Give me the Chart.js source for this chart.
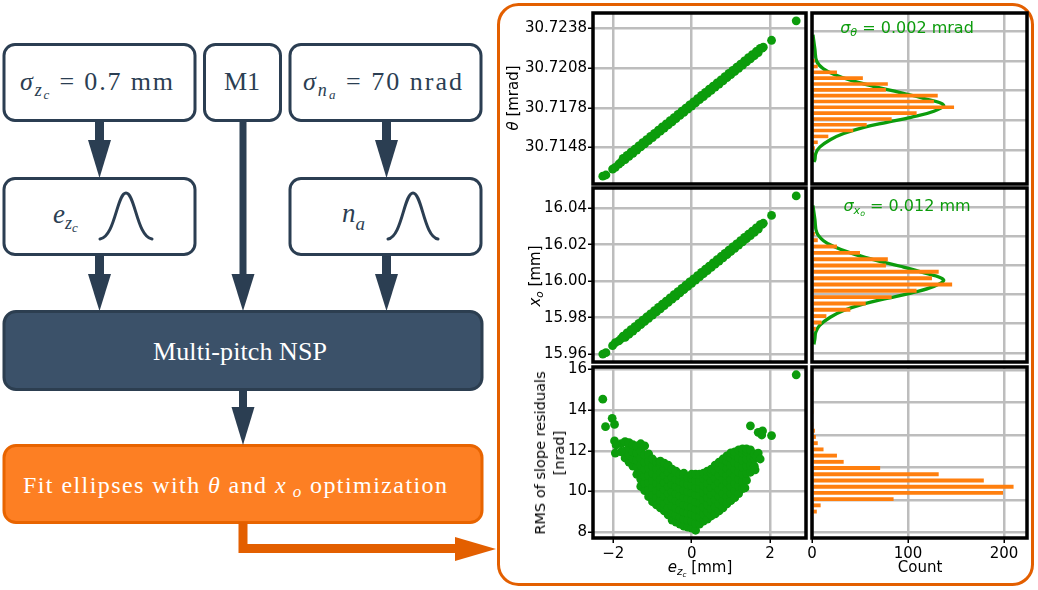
<!DOCTYPE html>
<html><head><meta charset="utf-8">
<script src="https://cdn.jsdelivr.net/npm/chart.js@4.4.1/dist/chart.umd.min.js"></script>
<style>
html,body{margin:0;padding:0;background:#fff;}
#wrap{position:relative;width:1038px;height:590px;overflow:hidden;font-family:'DejaVu Sans',sans-serif;}
canvas{position:absolute;}
.lbl{position:absolute;white-space:nowrap;font-size:15px;color:#000;transform:translate(-50%,-50%);line-height:19px;text-align:center;}
.rot{transform:translate(-50%,-50%) rotate(-90deg);}
.ann{color:#0c9c0c;font-size:16px;}
i{font-style:italic;}
sub{font-size:70%;vertical-align:-0.3em;line-height:0;}
</style></head>
<body>
<div id="wrap">
<svg width="1038" height="590" viewBox="0 0 1038 590" style="position:absolute;left:0;top:0">
  <rect x="498.5" y="4.5" width="534" height="580" rx="20" fill="none" stroke="#e35f00" stroke-width="3"/>
  <g fill="#fff" stroke="#2b3e52" stroke-width="3">
    <rect x="4" y="44.5" width="191" height="76" rx="11"/>
    <rect x="204.5" y="44.5" width="76" height="76" rx="11"/>
    <rect x="290" y="44.5" width="191" height="76" rx="11"/>
    <rect x="4" y="178.5" width="191" height="76" rx="11"/>
    <rect x="290" y="178.5" width="191" height="76" rx="11"/>
  </g>
  <rect x="4" y="311.5" width="478" height="78" rx="12" fill="#3b5169" stroke="#2c3e50" stroke-width="3"/>
  <rect x="4" y="445.5" width="478" height="77" rx="12" fill="#fd7f23" stroke="#e86400" stroke-width="3"/>
  <g fill="#2b3e52">
    <rect x="95" y="121" width="9" height="21"/><polygon points="88,140 111,140 99.5,178"/>
    <rect x="382" y="121" width="9" height="21"/><polygon points="375,140 398,140 386.5,178"/>
    <rect x="95" y="255" width="9" height="21"/><polygon points="88,274 111,274 99.5,311"/>
    <rect x="382" y="255" width="9" height="21"/><polygon points="375,274 398,274 386.5,311"/>
    <rect x="239.5" y="121" width="7" height="155"/><polygon points="231.5,274 254.5,274 243,311"/>
    <rect x="239" y="390" width="8" height="19"/><polygon points="231.5,407 254.5,407 243,445"/>
  </g>
  <path d="M243 522 V548.5 H458" fill="none" stroke="#e35f00" stroke-width="9"/>
  <polygon points="455,537 455,561 496,549" fill="#e35f00"/>
  <g fill="none" stroke="#2b3e52" stroke-width="3" stroke-linecap="round">
    <path d="M100 239 C115 237, 117 193, 126 193 C135 193, 137 237, 152 239"/>
    <path d="M388 239 C402 237, 404 193, 413 193 C422 193, 424 237, 438 239"/>
  </g>
  <g font-family="'Liberation Serif', serif" fill="#2b3e52" style="white-space:pre">
    <text x="96.5" y="90" text-anchor="middle" font-size="26" textLength="153"><tspan font-style="italic">σ</tspan><tspan font-style="italic" font-size="18" dy="6">z</tspan><tspan font-style="italic" font-size="13" dy="3">c</tspan><tspan dy="-9"> = 0.7 mm</tspan></text>
    <text x="242" y="90" text-anchor="middle" font-size="26">M1</text>
    <text x="382.5" y="90" text-anchor="middle" font-size="26" textLength="159"><tspan font-style="italic">σ</tspan><tspan font-style="italic" font-size="18" dy="6">n</tspan><tspan font-style="italic" font-size="13" dy="3">a</tspan><tspan dy="-9"> = 70 nrad</tspan></text>
    <text x="53" y="223" font-size="27"><tspan font-style="italic">e</tspan><tspan font-style="italic" font-size="18" dy="6">z</tspan><tspan font-style="italic" font-size="13" dy="3">c</tspan></text>
    <text x="342" y="222" font-size="27"><tspan font-style="italic">n</tspan><tspan font-style="italic" font-size="19" dy="8">a</tspan></text>
    <text x="240" y="360" text-anchor="middle" font-size="26" fill="#fff" textLength="174">Multi-pitch NSP</text>
    <text x="23" y="493" font-size="24" fill="#fff" textLength="424">Fit ellipses  with <tspan font-style="italic">θ</tspan> and <tspan font-style="italic">x</tspan><tspan font-style="italic" font-size="17" dy="4"> o</tspan><tspan dy="-4"> optimization</tspan></text>
  </g>
</svg>

<canvas id="cA" width="312" height="196" style="left:500px;top:0px"></canvas>
<canvas id="cB" width="240" height="196" style="left:798px;top:0px"></canvas>
<canvas id="cC" width="312" height="199" style="left:500px;top:175px"></canvas>
<canvas id="cD" width="240" height="199" style="left:798px;top:175px"></canvas>
<canvas id="cE" width="312" height="236" style="left:500px;top:354px"></canvas>
<canvas id="cF" width="240" height="236" style="left:798px;top:354px"></canvas>

<div class="lbl rot" style="left:513px;top:98px"><i>θ</i> [mrad]</div>
<div class="lbl rot" style="left:535px;top:276px"><i>x</i><sub><i>o</i></sub> [mm]</div>
<div class="lbl rot" style="left:550px;top:453px;font-size:14.5px"><div>RMS of slope residuals</div><div>[nrad]</div></div>
<div class="lbl" style="left:700px;top:567px"><i>e</i><sub><i>z</i><sub><i>c</i></sub></sub> [mm]</div>
<div class="lbl" style="left:920px;top:567px">Count</div>
<div class="lbl ann" style="left:907px;top:27px"><i>σ</i><sub><i>θ</i></sub> = 0.002 mrad</div>
<div class="lbl ann" style="left:907px;top:205px"><i>σ</i><sub><i>x<sub>o</sub></i></sub> = 0.012 mm</div>
</div>

<script>
// ---------------- data ----------------
// e_zc values of the samples shown in the two linear scatter panels
const lineE = [
  -2.27,-2.19,-2.02,-1.95,-1.86,-1.80,
  -1.7,-1.6,-1.5,-1.4,-1.3,-1.2,-1.1,-1.0,-0.9,-0.8,-0.7,-0.6,-0.5,-0.4,-0.3,-0.2,-0.1,0,
  0.1,0.2,0.3,0.4,0.5,0.6,0.7,0.8,0.9,1.0,1.1,1.2,1.3,1.4,1.5,1.6,1.7,
  -1.75,-1.65,-1.55,-1.45,-1.35,-1.25,-1.15,-1.05,-0.95,-0.85,-0.75,-0.65,-0.55,-0.45,-0.35,-0.25,-0.15,-0.05,
  0.05,0.15,0.25,0.35,0.45,0.55,0.65,0.75,0.85,0.95,1.05,1.15,1.25,1.35,1.45,1.55,1.65,1.75,
  1.80,1.83,2.04,2.67];
const thetaVals = [
  30.71263,30.71272,30.71317,30.7133,30.71355,30.7137,
  30.71389,30.71413,30.71436,30.7146,30.71484,30.71508,30.71532,30.71555,30.71579,30.71603,30.71627,30.7165,30.71674,30.71698,30.71722,30.71745,30.71769,30.71793,
  30.71817,30.71841,30.71864,30.71888,30.71912,30.71936,30.71959,30.71983,30.72007,30.72031,30.72054,30.72078,30.72102,30.72126,30.7215,30.72173,30.72197,
  30.71397,30.71421,30.71445,30.71468,30.71492,30.71516,30.7154,30.71563,30.71587,30.71611,30.71635,30.71658,30.71682,30.71706,30.7173,30.71754,30.71777,30.71801,
  30.71825,30.71849,30.71873,30.71896,30.7192,30.71944,30.71968,30.71991,30.72015,30.72039,30.72063,30.72086,30.7211,30.72134,30.72158,30.72181,30.72205,30.72229,
  30.72231,30.72238,30.7229,30.72437];
const xoVals = [
  15.9600,15.9608,15.9646,15.9663,15.9672,15.9685,
  15.96915,15.9709,15.97265,15.97439,15.97614,15.97788,15.97963,15.98138,15.98312,15.98487,15.98662,15.98836,15.99011,15.99186,15.9936,15.99535,15.99709,15.99884,
  16.00059,16.00233,16.00408,16.00583,16.00757,16.00932,16.01106,16.01281,16.01456,16.0163,16.01805,16.0198,16.02154,16.02329,16.02503,16.02678,16.02853,
  15.96988,15.97162,15.97337,15.97512,15.97686,15.97861,15.98036,15.9821,15.98385,15.98559,15.98734,15.98909,15.99083,15.99258,15.99433,15.99607,15.99782,15.99957,
  16.00131,16.00306,16.0048,16.00655,16.0083,16.01004,16.01179,16.01354,16.01528,16.01703,16.01878,16.02052,16.02227,16.02401,16.02576,16.02751,16.02925,16.031,
  16.0312,16.0318,16.0361,16.0468];

// RMS of slope residuals vs e_zc : dense V-shaped cloud, read column by column
const vColE = [-1.8,-1.7,-1.6,-1.5,-1.4,-1.3,-1.2,-1.1,-1.0,-0.9,-0.8,-0.7,-0.6,-0.5,-0.4,-0.3,-0.2,-0.1,0,
               0.1,0.2,0.3,0.4,0.5,0.6,0.7,0.8,0.9,1.0,1.1,1.2,1.3,1.4,1.5,1.6];
const vColRms = [
  [11.95,12.35],
  [11.65,12.0,12.45],
  [11.45,11.8,12.15,12.4],
  [11.25,11.6,11.95,12.3],
  [10.85,11.2,11.55,11.9,12.25],
  [10.25,10.6,10.95,11.3,11.65,12.0,12.35],
  [10.05,10.4,10.75,11.1,11.45,11.8,12.25],
  [9.75,10.1,10.45,10.8,11.15,11.5,11.85],
  [9.5,9.85,10.2,10.55,10.9,11.25,11.6],
  [9.35,9.7,10.05,10.4,10.75,11.1,11.45],
  [9.2,9.55,9.9,10.25,10.6,10.95,11.3,11.5],
  [9.05,9.4,9.75,10.1,10.45,10.8,11.15,11.4],
  [8.85,9.2,9.55,9.9,10.25,10.6,10.95,11.3],
  [8.6,8.95,9.3,9.65,10.0,10.35,10.7,11.1],
  [8.5,8.85,9.2,9.55,9.9,10.25,10.6,11.0],
  [8.4,8.75,9.1,9.45,9.8,10.15,10.5,10.85],
  [8.3,8.65,9.0,9.35,9.7,10.05,10.4,10.75,10.9],
  [8.25,8.6,8.95,9.3,9.65,10.0,10.35,10.7],
  [8.2,8.55,8.9,9.25,9.6,9.95,10.3,10.65,10.85],
  [8.1,8.45,8.8,9.15,9.5,9.85,10.2,10.55,10.85],
  [8.4,8.75,9.1,9.45,9.8,10.15,10.5,10.85],
  [8.55,8.9,9.25,9.6,9.95,10.3,10.65,10.9],
  [8.65,9.0,9.35,9.7,10.05,10.4,10.75,11.0],
  [8.8,9.15,9.5,9.85,10.2,10.55,10.9,11.1],
  [8.9,9.25,9.6,9.95,10.3,10.65,11.0,11.3],
  [9.05,9.4,9.75,10.1,10.45,10.8,11.15,11.45],
  [9.2,9.55,9.9,10.25,10.6,10.95,11.3,11.6],
  [9.4,9.75,10.1,10.45,10.8,11.15,11.5,11.75],
  [9.55,9.9,10.25,10.6,10.95,11.3,11.65,11.9],
  [9.7,10.05,10.4,10.75,11.1,11.45,11.8,11.95],
  [9.9,10.25,10.6,10.95,11.3,11.65,12.05],
  [10.15,10.5,10.85,11.2,11.55,11.9,12.1],
  [10.55,10.9,11.25,11.6,11.95,12.1],
  [10.95,11.3,11.65,12.05],
  [11.25,11.6,11.85]];
const vOutE   = [2.67,-2.27,-2.03,-1.97,-2.2,-1.97,-1.93,-1.95,1.5,1.70,1.81,1.79,2.04,1.66,1.70,1.62,1.36,1.75];
const vOutRms = [15.74,14.54,13.6,13.3,13.19,12.49,12.29,11.89,13.23,12.91,12.98,12.78,12.75,11.72,11.89,11.07,10.18,11.6];

// histograms (bin centres and counts)
const thetaBins = [30.71292,30.71351,30.71409,30.71468,30.71527,30.71585,30.71644,30.71703,30.71761,30.7182,
                   30.71879,30.71937,30.71996,30.72055,30.72114,30.72172,30.72231,30.7229,30.72348,30.72407];
const thetaCounts = [2,3,6,17,43,57,83,109,148,127,131,77,79,53,26,6,3,1,0,1];
const xoBins = [15.96217,15.96651,15.97085,15.97519,15.97953,15.98387,15.98821,15.99255,15.99689,16.00123,
                16.00557,16.00991,16.01425,16.01859,16.02293,16.02727,16.03161,16.03595,16.04029,16.04463];
const xoCounts = [2,4,10,15,40,56,83,109,146,125,132,77,79,50,26,6,3,1,0,1];
const rmsBins = [8.291,8.673,9.055,9.437,9.819,10.201,10.583,10.965,11.347,11.729,
                 12.111,12.493,12.875,13.257,13.639,14.021,14.403,14.785,15.167,15.549];
const rmsCounts = [5,9,85,199,210,179,132,71,33,26,12,6,4,3,1,0,1,0,0,1];

// Gaussian fit curves (count, value)
const thetaFitCount = [1,3,5,12,22,40,64,92,117,137,127,103,78,54,33,19,8,4,3,2];
const thetaFitVal = [30.72492,30.72348,30.72223,30.72148,30.72097,30.72035,30.71973,30.7191,30.71848,30.71785,
                     30.71722,30.7166,30.7161,30.7156,30.71497,30.71435,30.7136,30.71298,30.71235,30.7121];
const xoFitCount = [1,3,5,12,22,40,64,92,117,137,127,103,78,54,33,19,8,4,3,2];
const xoFitVal = [16.0511,16.0416,16.0324,16.0269,16.0232,16.0186,16.014,16.0094,16.0048,16.0002,
                  15.9956,15.991,15.9873,15.9836,15.979,15.9744,15.9689,15.9643,15.9597,15.9558];

// axes
const xRange = [-2.52, 2.92];
const xTicks = [-2, 0, 2];
const countRange = [0, 224];
const countTicks = [0, 100, 200];
const thetaRange = [30.71204, 30.72496];
const thetaTicks = [30.7148, 30.7178, 30.7208, 30.7238];
const xoRange = [15.95566, 16.05114];
const xoTicks = [15.96, 15.98, 16.00, 16.02, 16.04];
const rmsRange = [7.718, 16.122];
const rmsTicks = [8, 10, 12, 14, 16];

// ---------------- drawing ----------------
const GREEN = '#0c9c0c', ORANGE = '#ff7f0e', GRID = '#bdbdbd';
Chart.defaults.font.family = "'DejaVu Sans', sans-serif";
Chart.defaults.font.size = 15;
Chart.defaults.color = '#000';

const frame = { id: 'frame', afterDraw(c) {
  const a = c.chartArea, x = c.ctx;
  x.save(); x.strokeStyle = '#000'; x.lineWidth = 3.5;
  x.strokeRect(a.left, a.top, a.right - a.left, a.bottom - a.top); x.restore();
}};
const setTicks = arr => s => { s.ticks = arr.map(v => ({ value: v })); };
const fmtMinus = v => v < 0 ? '\u2212' + Math.abs(v) : String(v);

function pairs(xs, ys) { const n = Math.min(xs.length, ys.length); const out = []; for (let i = 0; i < n; i++) out.push({ x: xs[i], y: ys[i] }); return out; }

function scatter(id, pts, yr, yt, yfmt, showX, xH) {
  return new Chart(document.getElementById(id), {
    type: 'scatter',
    data: { datasets: [{ data: pts, pointRadius: 4.4, backgroundColor: GREEN, pointBackgroundColor: GREEN, pointBorderWidth: 0, borderWidth: 0 }] },
    options: {
      responsive: false, animation: false, events: [],
      layout: { padding: { top: 13, right: 6, left: 0, bottom: 0 } },
      plugins: { legend: { display: false }, tooltip: { enabled: false } },
      scales: {
        x: { type: 'linear', min: xRange[0], max: xRange[1], afterBuildTicks: setTicks(xTicks), afterFit: s => { s.height = xH; },
             border: { display: false },
             grid: { color: GRID, lineWidth: 2.5, drawTicks: showX, tickLength: 5, tickColor: '#000', tickWidth: 1.5 },
             ticks: { display: showX, autoSkip: false, maxRotation: 0, padding: 2, callback: fmtMinus } },
        y: { type: 'linear', min: yr[0], max: yr[1], afterBuildTicks: setTicks(yt), afterFit: s => { s.width = 93; },
             border: { display: false },
             grid: { color: GRID, lineWidth: 2.5, drawTicks: true, tickLength: 5, tickColor: '#000', tickWidth: 1.5 },
             ticks: { autoSkip: false, padding: 1, callback: yfmt } }
      }
    },
    plugins: [frame]
  });
}

function hist(id, bins, counts, fitC, fitV, yr, yt, showX, xH) {
  const ds = [{ type: 'bar', data: pairs(counts, bins), backgroundColor: ORANGE, borderWidth: 0, barPercentage: 0.62, categoryPercentage: 1 }];
  if (fitC) ds.push({ type: 'line', data: pairs(fitC, fitV), borderColor: GREEN, borderWidth: 3.3, pointRadius: 0, tension: 0.4, fill: false });
  return new Chart(document.getElementById(id), {
    type: 'bar',
    data: { datasets: ds },
    options: {
      indexAxis: 'y', responsive: false, animation: false, events: [],
      layout: { padding: { top: 13, right: 11, left: 0, bottom: 0 } },
      plugins: { legend: { display: false }, tooltip: { enabled: false } },
      scales: {
        x: { type: 'linear', z: 1, min: countRange[0], max: countRange[1], afterBuildTicks: setTicks(countTicks), afterFit: s => { s.height = xH; },
             border: { display: false },
             grid: { color: GRID, lineWidth: 2.5, drawTicks: showX, tickLength: 5, tickColor: '#000', tickWidth: 1.5 },
             ticks: { display: showX, autoSkip: false, maxRotation: 0, padding: 2 } },
        y: { type: 'linear', z: 1, min: yr[0], max: yr[1], afterBuildTicks: setTicks(yt), afterFit: s => { s.width = 14; },
             border: { display: false },
             grid: { color: GRID, lineWidth: 2.5, drawTicks: false },
             ticks: { display: false } }
      }
    },
    plugins: [frame]
  });
}

const vE = [], vR = [];
vColE.forEach((e, i) => vColRms[i].forEach(r => { vE.push(e); vR.push(r); }));
vOutE.forEach((e, i) => { vE.push(e); vR.push(vOutRms[i]); });

scatter('cA', pairs(lineE, thetaVals), thetaRange, thetaTicks, v => v.toFixed(4), false, 12);
scatter('cC', pairs(lineE, xoVals), xoRange, xoTicks, v => v.toFixed(2), false, 12);
scatter('cE', pairs(vE, vR), rmsRange, rmsTicks, v => String(v), true, 52);
hist('cB', thetaBins, thetaCounts, thetaFitCount, thetaFitVal, thetaRange, thetaTicks, false, 12);
hist('cD', xoBins, xoCounts, xoFitCount, xoFitVal, xoRange, xoTicks, false, 12);
hist('cF', rmsBins, rmsCounts, null, null, rmsRange, rmsTicks, true, 52);
</script>
</body></html>
